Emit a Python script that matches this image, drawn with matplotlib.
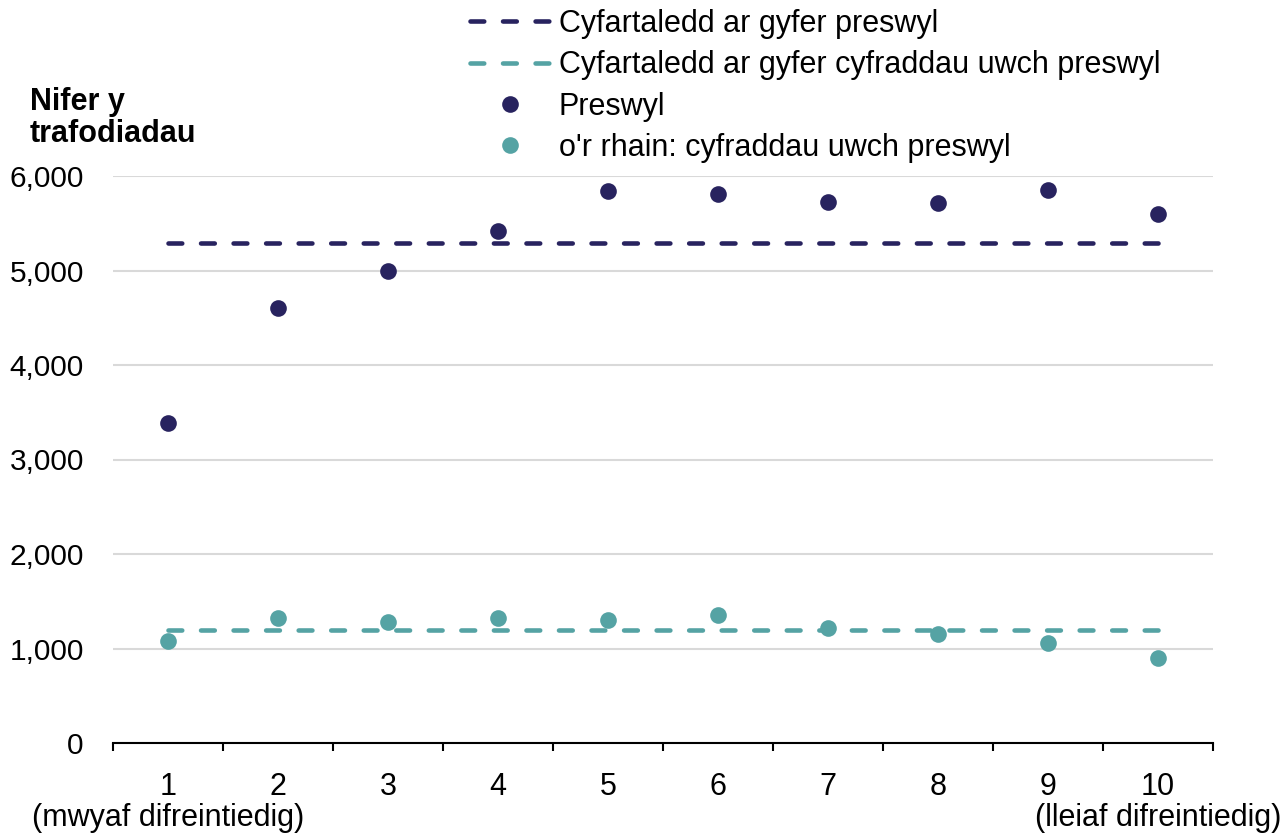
import matplotlib
matplotlib.use("Agg")
import matplotlib.pyplot as plt
from matplotlib.lines import Line2D

plt.rcParams['font.family'] = ['Liberation Sans', 'DejaVu Sans']

categories = ["1", "2", "3", "4", "5", "6", "7", "8", "9", "10"]
end_notes = ["(mwyaf difreintiedig)", "(lleiaf difreintiedig)"]
preswyl = [3390, 4600, 4990, 5420, 5840, 5810, 5725, 5715, 5855, 5600]
uwch = [1080, 1320, 1280, 1320, 1300, 1355, 1215, 1155, 1060, 900]
avg_preswyl = 5290
avg_uwch = 1200
yticks = [0, 1000, 2000, 3000, 4000, 5000, 6000]
ytick_labels = ["0", "1,000", "2,000", "3,000", "4,000", "5,000", "6,000"]

labels = ["Cyfartaledd ar gyfer preswyl",
          "Cyfartaledd ar gyfer cyfraddau uwch preswyl",
          "Preswyl",
          "o'r rhain: cyfraddau uwch preswyl"]

NAVY = "#28235f"
TEAL = "#55a3a4"
GRID = "#d9d9d9"
FS = 22

W, H = 1285, 835
fig = plt.figure(figsize=(W / 100, H / 100), dpi=100)
ax = fig.add_axes([113 / W, 1 - 743 / H, (1213 - 113) / W, (743 - 176) / H])

xpos = [i + 0.5 for i in range(len(categories))]

LW = 3.3
dash = (3.0, 4.1)
line_kw = dict(lw=LW, dashes=dash, dash_capstyle='round')
ax.plot([xpos[0], xpos[-1]], [avg_preswyl, avg_preswyl], color=NAVY, zorder=3, **line_kw)
ax.plot([xpos[0], xpos[-1]], [avg_uwch, avg_uwch], color=TEAL, zorder=3, **line_kw)
ax.plot(xpos, preswyl, 'o', color=NAVY, ms=12, mec='none', zorder=4, clip_on=False)
ax.plot(xpos, uwch, 'o', color=TEAL, ms=12, mec='none', zorder=4, clip_on=False)

ax.set_xlim(0, len(categories))
ax.set_ylim(0, 6000)
ax.set_yticks(yticks)
ax.set_yticklabels(ytick_labels, fontsize=21.5)
ax.tick_params(axis='y', length=0, pad=21)
ax.yaxis.grid(True, color=GRID, lw=1.5)
ax.set_axisbelow(True)

ax.set_xticks(xpos)
ax.set_xticklabels(categories, fontsize=FS)
ax.set_xticks(range(len(categories) + 1), minor=True)
ax.tick_params(axis='x', which='major', length=0, pad=21)
ax.tick_params(axis='x', which='minor', length=6, width=1.5, color='black')

for xi, note in zip([xpos[0], xpos[-1]], end_notes):
    ax.annotate(note, xy=(xi, 0), xycoords='data', xytext=(0, -60),
                textcoords='offset pixels', ha='center', va='top', fontsize=FS,
                annotation_clip=False)

for s in ['top', 'right', 'left']:
    ax.spines[s].set_visible(False)
ax.spines['bottom'].set_linewidth(1.5)
ax.spines['bottom'].set_color('black')

fig.text(30 / W, 1 - 87 / H, "Nifer y\ntrafodiadau", fontsize=FS, fontweight='bold',
         va='top', ha='left', linespacing=1.1)

handles = [
    Line2D([], [], color=NAVY, **line_kw),
    Line2D([], [], color=TEAL, **line_kw),
    Line2D([], [], marker='o', ls='none', color=NAVY, ms=12, mec='none'),
    Line2D([], [], marker='o', ls='none', color=TEAL, ms=12, mec='none'),
]
fig.legend(handles, labels, loc='upper left', bbox_to_anchor=(470 / W, 1 - 9 / H),
           frameon=False, fontsize=FS, handlelength=2.65, handletextpad=0.25,
           labelspacing=0.37, borderpad=0, borderaxespad=0)

fig.savefig("out.png", dpi=100)
